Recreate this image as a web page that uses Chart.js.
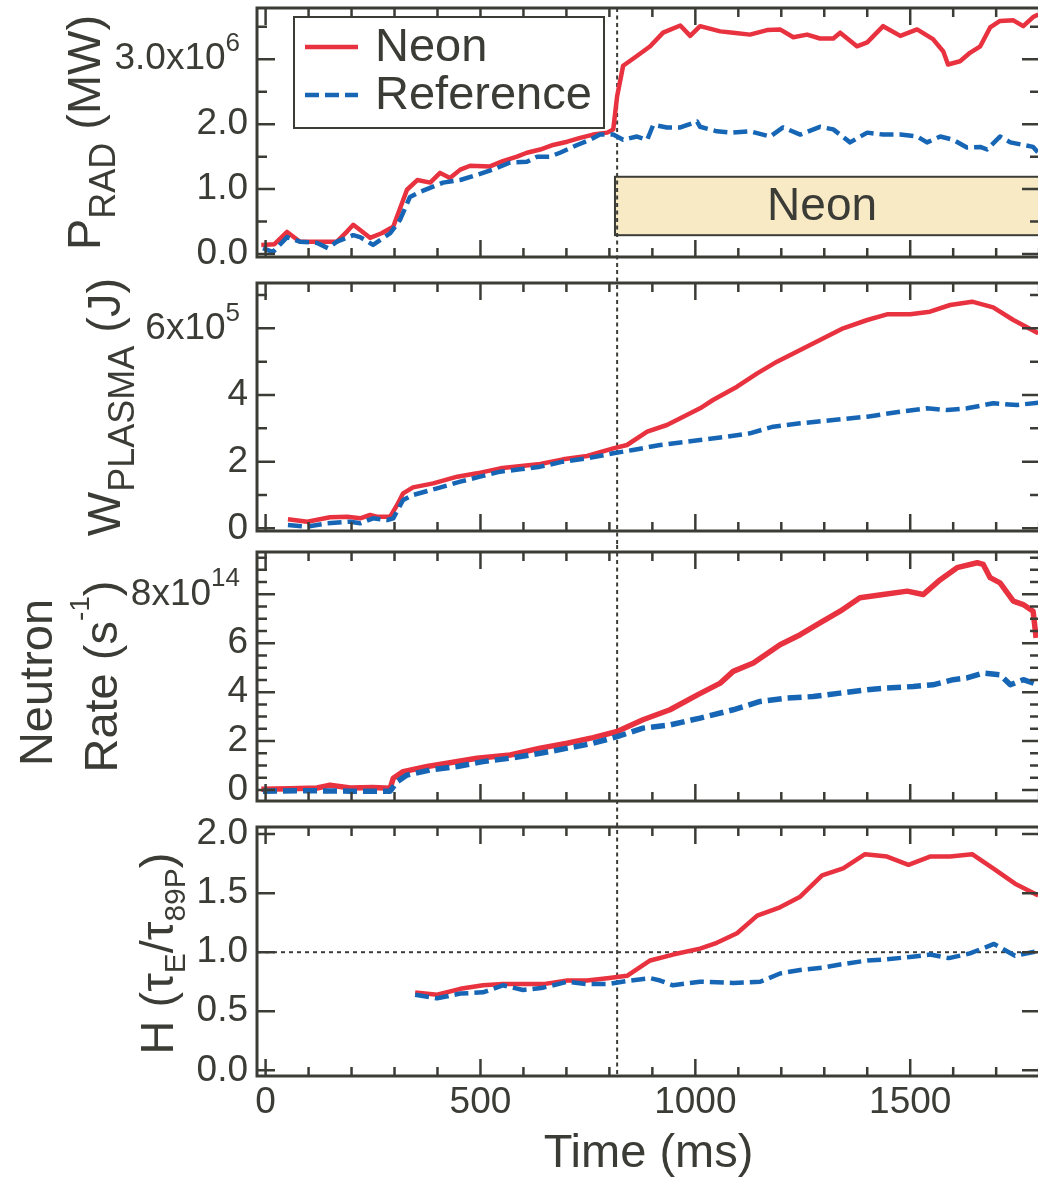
<!DOCTYPE html>
<html>
<head>
<meta charset="utf-8">
<script src="https://cdn.jsdelivr.net/npm/chart.js@4.4.0/dist/chart.umd.min.js"></script>
<style>
  body { margin: 0; background: #fff; width: 1038px; height: 1179px; overflow: hidden; position: relative; }
  canvas { position: absolute; left: 0; }
</style>
</head>
<body>
<canvas id="prad" width="1050" height="270" style="top:0"></canvas>
<canvas id="wplasma" width="1050" height="275" style="top:270px"></canvas>
<canvas id="neutron" width="1050" height="270" style="top:545px"></canvas>
<canvas id="hfactor" width="1050" height="364" style="top:815px"></canvas>
<script>
const INK = '#3c3c37';
const RED = '#e8323f';
const BLUE = '#1666b5';
const FONT = "'Liberation Sans', Arial, sans-serif";

// time axis (ms)
const X_MIN = -20, X_MAX = 1802;
const xTickValues = [0, 500, 1000, 1500];
const neonOnset = 818;          // dotted vertical marker
const neonBand = { start: 813, end: 1800, low: 0.29, high: 1.19, text: 'Neon' };

// P_RAD (x10^6)
const tPradNeon = [-10, 20, 50, 80, 120, 166, 190, 204, 220, 243, 270, 297, 329, 353, 383, 406, 429, 453, 476, 522,
  552, 585, 608, 639, 669, 702, 732, 762, 795, 809, 818, 832, 864, 895, 925, 965, 988, 1011, 1058, 1088,
  1127, 1167, 1197, 1228, 1260, 1290, 1321, 1337, 1376, 1400, 1437, 1477, 1516, 1553, 1577, 1588, 1616, 1639, 1663, 1686,
  1709, 1740, 1763, 1786, 1798];
const pradNeon = [0.14, 0.15, 0.34, 0.19, 0.19, 0.19, 0.35, 0.45, 0.37, 0.25, 0.32, 0.42, 0.99, 1.14, 1.10, 1.25, 1.17, 1.30, 1.36, 1.35,
  1.43, 1.50, 1.56, 1.61, 1.68, 1.73, 1.79, 1.84, 1.87, 1.92, 2.43, 2.90, 3.05, 3.20, 3.41, 3.52, 3.36, 3.51, 3.43, 3.41,
  3.38, 3.45, 3.46, 3.34, 3.38, 3.32, 3.32, 3.41, 3.20, 3.26, 3.51, 3.36, 3.46, 3.31, 3.12, 2.92, 2.97, 3.10, 3.20, 3.49,
  3.59, 3.60, 3.51, 3.65, 3.69];
const tPradRef = [-6, 17, 50, 80, 120, 145, 166, 204, 220, 250, 290, 313, 336, 360, 413, 453, 492, 529, 569, 608,
  632, 662, 685, 725, 755, 778, 809, 832, 864, 888, 902, 934, 965, 1004, 1011, 1050, 1088, 1127, 1174, 1204,
  1244, 1290, 1321, 1360, 1400, 1437, 1477, 1516, 1539, 1570, 1600, 1632, 1663, 1679, 1709, 1733, 1763, 1786, 1798];
const pradRef = [0.09, 0.03, 0.26, 0.19, 0.17, 0.09, 0.19, 0.29, 0.26, 0.14, 0.32, 0.53, 0.88, 0.96, 1.10, 1.14, 1.22, 1.30, 1.41, 1.42,
  1.50, 1.50, 1.56, 1.68, 1.76, 1.84, 1.84, 1.76, 1.81, 1.76, 1.99, 1.95, 1.95, 2.04, 1.96, 1.89, 1.87, 1.89, 1.81, 1.95,
  1.84, 1.96, 1.92, 1.72, 1.87, 1.84, 1.84, 1.81, 1.72, 1.81, 1.76, 1.64, 1.65, 1.61, 1.81, 1.72, 1.68, 1.65, 1.56];

// W_PLASMA (x10^5)
const tWNeon = [52, 97, 150, 190, 220, 243, 259, 290, 306, 320, 343, 390, 446, 492, 546, 639, 692, 748, 809, 841,
  888, 934, 1011, 1041, 1097, 1144, 1190, 1244, 1290, 1344, 1400, 1446, 1500, 1546, 1593, 1644, 1693, 1740, 1798];
const wNeon = [0.27, 0.20, 0.33, 0.35, 0.30, 0.40, 0.35, 0.35, 0.70, 1.05, 1.23, 1.35, 1.55, 1.65, 1.80, 1.93, 2.07, 2.17, 2.40, 2.50,
  2.90, 3.10, 3.60, 3.85, 4.25, 4.65, 5.00, 5.35, 5.65, 6.00, 6.25, 6.42, 6.42, 6.50, 6.70, 6.80, 6.63, 6.25, 5.85];
const tWRef = [52, 97, 143, 197, 220, 250, 283, 297, 320, 343, 399, 453, 499, 546, 592, 639, 692, 748, 809, 855,
  918, 1011, 1074, 1127, 1181, 1244, 1321, 1400, 1477, 1539, 1586, 1632, 1693, 1749, 1798];
const wRef = [0.10, 0.05, 0.15, 0.20, 0.15, 0.30, 0.25, 0.30, 0.85, 1.00, 1.20, 1.40, 1.55, 1.70, 1.77, 1.85, 2.00, 2.10, 2.25, 2.35,
  2.50, 2.65, 2.75, 2.85, 3.05, 3.15, 3.25, 3.35, 3.50, 3.60, 3.55, 3.60, 3.75, 3.70, 3.77];

// Neutron rate (x10^14 s^-1)
const tNNeon = [-10, 57, 120, 150, 197, 250, 290, 297, 320, 376, 422, 492, 569, 639, 702, 762, 818, 878, 941, 1006,
  1058, 1088, 1135, 1197, 1244, 1290, 1337, 1383, 1437, 1493, 1530, 1570, 1609, 1656, 1670, 1686, 1709, 1740, 1763, 1786, 1793];
const nNeon = [0.03, 0.05, 0.08, 0.20, 0.08, 0.10, 0.07, 0.48, 0.75, 0.96, 1.09, 1.30, 1.43, 1.71, 1.91, 2.14, 2.39, 2.87, 3.28, 3.90,
  4.37, 4.85, 5.19, 5.94, 6.35, 6.83, 7.31, 7.86, 7.99, 8.13, 7.99, 8.60, 9.09, 9.29, 9.22, 8.68, 8.47, 7.72, 7.58, 7.31, 6.22];
const tNRef = [-6, 100, 200, 290, 306, 329, 383, 446, 506, 569, 639, 702, 762, 818, 878, 941, 1011, 1088, 1151, 1214,
  1274, 1337, 1400, 1446, 1507, 1553, 1600, 1632, 1670, 1709, 1733, 1763, 1798];
const nRef = [-0.05, -0.03, -0.05, -0.05, 0.34, 0.61, 0.82, 0.96, 1.16, 1.30, 1.50, 1.71, 1.91, 2.18, 2.53, 2.66, 2.94, 3.28, 3.62, 3.76,
  3.82, 3.96, 4.10, 4.17, 4.23, 4.30, 4.51, 4.58, 4.78, 4.71, 4.30, 4.51, 4.30];

// H factor
const tHNeon = [348, 399, 453, 506, 552, 599, 646, 702, 748, 795, 841, 895, 948, 1011, 1050, 1097, 1144, 1197, 1244, 1295,
  1344, 1395, 1446, 1496, 1546, 1593, 1644, 1693, 1744, 1798];
const hNeon = [0.66, 0.64, 0.69, 0.72, 0.73, 0.73, 0.73, 0.76, 0.76, 0.78, 0.80, 0.93, 0.98, 1.03, 1.08, 1.16, 1.31, 1.38, 1.47, 1.65,
  1.71, 1.83, 1.81, 1.74, 1.81, 1.81, 1.83, 1.71, 1.58, 1.48];
const tHRef = [348, 399, 453, 506, 552, 599, 646, 702, 748, 795, 848, 895, 918, 948, 1011, 1088, 1151, 1197, 1244, 1297,
  1344, 1400, 1446, 1500, 1546, 1590, 1639, 1695, 1744, 1798];
const hRef = [0.64, 0.61, 0.65, 0.66, 0.72, 0.68, 0.70, 0.75, 0.73, 0.73, 0.76, 0.78, 0.76, 0.72, 0.75, 0.74, 0.75, 0.82, 0.85, 0.87,
  0.90, 0.93, 0.94, 0.96, 0.98, 0.95, 0.99, 1.07, 0.97, 1.01];

// y tick labels
const pradTicks = [0, 1, 2, 3], pradLabels = ['0.0', '1.0', '2.0', ''];
const wTicks = [0, 2, 4, 6], wLabels = ['0', '2', '4', ''];
const nTicks = [0, 2, 4, 6, 8], nLabels = ['0', '2', '4', '6', ''];
const hTicks = [0, 0.5, 1, 1.5, 2], hLabels = ['0.0', '0.5', '1.0', '1.5', '2.0'];

Chart.defaults.font.family = FONT;
Chart.defaults.color = INK;

const series = (t, v) => t.map((x, i) => ({ x, y: v[i] }));

function drawRotated(ctx, line, cy) {
  let total = 0;
  line.segs.forEach(s => { ctx.font = s[1] + 'px ' + FONT; total += ctx.measureText(s[0]).width; });
  ctx.save();
  ctx.translate(line.x, cy + total / 2);
  ctx.rotate(-Math.PI / 2);
  ctx.textAlign = 'left';
  ctx.textBaseline = 'alphabetic';
  let pos = 0;
  line.segs.forEach(s => {
    ctx.font = s[1] + 'px ' + FONT;
    ctx.fillText(s[0], pos, s[2]);
    pos += ctx.measureText(s[0]).width;
  });
  ctx.restore();
}

const decor = {
  id: 'decor',
  beforeDatasetsDraw(chart, args, o) {
    const { ctx, chartArea: a, scales: { x, y } } = chart;
    ctx.save();
    if (o.band) {
      const x1 = x.getPixelForValue(o.band.start), x2 = x.getPixelForValue(o.band.end);
      const y1 = y.getPixelForValue(o.band.high), y2 = y.getPixelForValue(o.band.low);
      ctx.fillStyle = '#f9eac6';
      ctx.fillRect(x1, y1, x2 - x1, y2 - y1);
      ctx.strokeStyle = INK; ctx.lineWidth = 2;
      ctx.strokeRect(x1, y1, x2 - x1, y2 - y1);
      ctx.fillStyle = INK;
      ctx.font = '46px ' + FONT;
      ctx.textAlign = 'center'; ctx.textBaseline = 'middle';
      ctx.fillText(o.band.text, (x1 + x2) / 2 - 5, (y1 + y2) / 2 + 1);
    }
    ctx.strokeStyle = INK; ctx.lineWidth = 2;
    if (o.hline !== undefined) {
      const py = y.getPixelForValue(o.hline);
      ctx.setLineDash([4, 4]);
      ctx.beginPath(); ctx.moveTo(a.left, py); ctx.lineTo(a.right, py); ctx.stroke();
    }
    const px = x.getPixelForValue(neonOnset);
    ctx.setLineDash([4, 3.5]);
    ctx.beginPath();
    ctx.moveTo(px, o.vFromArea ? a.top : 0);
    ctx.lineTo(px, o.vToArea ? a.bottom : chart.height);
    ctx.stroke();
    ctx.restore();
  },
  afterDraw(chart, args, o) {
    const { ctx, chartArea: a, scales: { x, y } } = chart;
    ctx.save();
    ctx.strokeStyle = INK;
    ctx.fillStyle = INK;
    // inward ticks on all four sides
    ctx.lineWidth = 2.5;
    ctx.beginPath();
    for (let v = 0; v <= X_MAX; v += 100) {
      const px = x.getPixelForValue(v);
      const L = v % 500 === 0 ? 17 : 9;
      ctx.moveTo(px, a.bottom); ctx.lineTo(px, a.bottom - L);
      ctx.moveTo(px, a.top); ctx.lineTo(px, a.top + L);
    }
    for (let k = Math.ceil(y.min / o.minor - 1e-9); k * o.minor <= y.max + 1e-9; k++) {
      const v = k * o.minor;
      const r = v / o.major;
      const L = Math.abs(r - Math.round(r)) < 1e-6 ? 18 : 10;
      const py = y.getPixelForValue(v);
      ctx.moveTo(a.left, py); ctx.lineTo(a.left + L, py);
      ctx.moveTo(a.right, py); ctx.lineTo(a.right - L, py);
    }
    ctx.stroke();
    // frame
    ctx.lineWidth = 3;
    ctx.strokeRect(a.left, a.top, a.right - a.left, a.bottom - a.top);
    // exponent tick label
    if (o.exp) {
      const py = y.getPixelForValue(o.exp.value);
      ctx.textBaseline = 'middle'; ctx.textAlign = 'left';
      ctx.font = '37px ' + FONT;
      const wb = ctx.measureText(o.exp.base).width;
      ctx.font = '26px ' + FONT;
      const we = ctx.measureText(o.exp.power).width;
      const right = a.left - 17;
      ctx.font = '37px ' + FONT;
      ctx.fillText(o.exp.base, right - wb - we, py);
      ctx.font = '26px ' + FONT;
      ctx.fillText(o.exp.power, right - we, py - 15);
    }
    // axis titles
    const cy = (a.top + a.bottom) / 2;
    o.titles.forEach(line => drawRotated(ctx, line, cy + (line.dy || 0)));
    // legend box
    if (o.legend) {
      const bx = a.left + 37, by = a.top + 9, bw = 310, bh = 111;
      ctx.lineWidth = 2;
      ctx.setLineDash([]);
      ctx.fillStyle = '#fff';
      ctx.fillRect(bx, by, bw, bh);
      ctx.strokeRect(bx, by, bw, bh);
      ['Neon', 'Reference'].forEach((name, i) => {
        const ds = chart.data.datasets.find(d => d.label === name);
        const ly = by + 30 + i * 48;
        ctx.strokeStyle = ds.borderColor;
        ctx.lineWidth = ds.borderWidth;
        ctx.setLineDash(ds.borderDash || []);
        ctx.beginPath(); ctx.moveTo(bx + 11, ly); ctx.lineTo(bx + 64, ly); ctx.stroke();
        ctx.fillStyle = INK;
        ctx.font = '47px ' + FONT;
        ctx.textAlign = 'left'; ctx.textBaseline = 'middle';
        ctx.fillText(name, bx + 81, ly + 1);
      });
    }
    ctx.restore();
  }
};

function panel(id, cfg) {
  const showX = !!cfg.showX;
  const lw = cfg.lineWidth || 4.5;
  return new Chart(document.getElementById(id), {
    type: 'line',
    data: {
      datasets: [
        { label: 'Neon', data: series(cfg.tN, cfg.vN), borderColor: RED, borderWidth: lw,
          pointRadius: 0, tension: 0, borderJoinStyle: 'round', order: 1 },
        { label: 'Reference', data: series(cfg.tR, cfg.vR), borderColor: BLUE, borderWidth: lw,
          borderDash: [14, 6], pointRadius: 0, tension: 0, borderJoinStyle: 'round', order: 0 }
      ]
    },
    options: {
      responsive: false,
      animation: false,
      events: [],
      layout: { padding: { top: cfg.padTop, bottom: cfg.padBottom, left: 0, right: 10 } },
      plugins: {
        legend: { display: false },
        tooltip: { enabled: false },
        decor: cfg.decor
      },
      scales: {
        x: {
          type: 'linear', min: X_MIN, max: X_MAX, display: showX, position: 'bottom',
          grid: { display: false, drawTicks: false },
          border: { display: false },
          afterBuildTicks: s => { s.ticks = xTickValues.map(v => ({ value: v })); },
          afterFit: s => { s.height = showX ? 103 : 0; s.paddingLeft = 0; s.paddingRight = 0; },
          ticks: { font: { size: 37 }, padding: 5, maxRotation: 0, callback: v => String(v) },
          title: { display: true, text: 'Time (ms)', font: { size: 47, lineHeight: 1 }, padding: { top: 0, bottom: 1 } }
        },
        y: {
          type: 'linear', min: cfg.yMin, max: cfg.yMax,
          grid: { display: false, drawTicks: false },
          border: { display: false },
          afterBuildTicks: s => { s.ticks = cfg.ticks.map(v => ({ value: v })); },
          afterFit: s => { s.width = 257; s.paddingTop = 0; s.paddingBottom = 0; },
          ticks: {
            font: { size: 37 }, padding: 9,
            callback: v => { const i = cfg.ticks.indexOf(v); return i >= 0 ? cfg.labels[i] : ''; }
          }
        }
      }
    },
    plugins: [decor]
  });
}

panel('prad', {
  tN: tPradNeon, vN: pradNeon, tR: tPradRef, vR: pradRef,
  yMin: -0.046, yMax: 3.79, ticks: pradTicks, labels: pradLabels,
  padTop: 8, padBottom: 13,
  decor: {
    major: 1, minor: 0.5, vFromArea: true, legend: true, band: neonBand,
    exp: { value: 3, base: '3.0x10', power: '6' },
    titles: [{ x: 100, segs: [['P', 47, 0], ['RAD', 36, 15], [' (MW)', 47, 0]] }]
  }
});

panel('wplasma', {
  tN: tWNeon, vN: wNeon, tR: tWRef, vR: wRef,
  yMin: -0.08, yMax: 7.36, ticks: wTicks, labels: wLabels,
  padTop: 13, padBottom: 14,
  decor: {
    major: 2, minor: 1,
    exp: { value: 6, base: '6x10', power: '5' },
    titles: [{ x: 120, segs: [['W', 47, 0], ['PLASMA', 36, 14], [' (J)', 47, 0]] }]
  }
});

panel('neutron', {
  tN: tNNeon, vN: nNeon, tR: tNRef, vR: nRef,
  yMin: -0.45, yMax: 9.73, ticks: nTicks, labels: nLabels,
  padTop: 7, padBottom: 14, lineWidth: 5.5,
  decor: {
    major: 2, minor: 0.5,
    exp: { value: 8, base: '8x10', power: '14' },
    titles: [
      { x: 52, dy: 6, segs: [['Neutron', 47, 0]] },
      { x: 117, segs: [['Rate (s', 47, 0], ['-1', 28, -28], [')', 47, 0]] }
    ]
  }
});

panel('hfactor', {
  tN: tHNeon, vN: hNeon, tR: tHRef, vR: hRef,
  yMin: -0.048, yMax: 2.06, ticks: hTicks, labels: hLabels,
  padTop: 12, padBottom: 0, showX: true,
  decor: {
    major: 0.5, minor: 0.5, vToArea: true, hline: 1,
    titles: [{ x: 173, dy: 2, segs: [['H (τ', 47, 0], ['E', 30, 12], ['/τ', 47, 0], ['89P', 30, 12], [')', 47, 0]] }]
  }
});
</script>
</body>
</html>
